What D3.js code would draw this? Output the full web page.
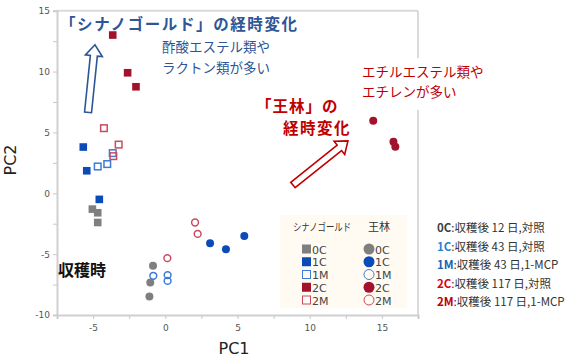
<!DOCTYPE html>
<html lang="ja">
<head>
<meta charset="utf-8">
<style>
  html, body { margin: 0; padding: 0; background: #fff; }
  svg { display: block; }
  text { font-family: "Noto Sans CJK JP", "Noto Sans", sans-serif; }
</style>
</head>
<body>
<svg width="570" height="360"></svg>
<script src="https://d3js.org/d3.v7.min.js"></script>
<script>
// データ（PC1, PC2）
const groups = ["0C", "1C", "1M", "2C", "2M"];

const shinano = {
  "0C": [[-5.05, -1.3], [-4.68, -1.6], [-4.68, -2.4]],
  "1C": [[-5.68, 3.8], [-5.44, 1.85], [-4.57, -0.5]],
  "1M": [[-4.68, 2.2], [-4.02, 2.4], [-3.64, 3.3]],
  "2C": [[-3.64, 13.0], [-2.61, 9.9], [-2.03, 8.75]],
  "2M": [[-4.25, 5.35], [-3.23, 4.0], [-3.6, 3.05]]
};

const ourin = {
  "0C": [[-0.85, -5.95], [-1.04, -7.33], [-1.1, -8.48]],
  "1C": [[3.1, -4.1], [4.2, -4.6], [5.47, -3.5]],
  "1M": [[-0.83, -6.78], [0.16, -6.72], [0.16, -7.2]],
  "2C": [[14.4, 5.95], [15.8, 4.23], [15.93, 3.82]],
  "2M": [[2.06, -2.4], [2.24, -3.34], [0.14, -5.33]]
};

const xTicks = [-5, 0, 5, 10, 15];
const yTicks = [-10, -5, 0, 5, 10, 15];

const notes = [
  ["0C", "収穫後 12 日,対照"],
  ["1C", "収穫後 43 日,対照"],
  ["1M", "収穫後 43 日,1-MCP"],
  ["2C", "収穫後 117 日,対照"],
  ["2M", "収穫後 117 日,1-MCP"]
];

// 矢印（データ座標）
const blueArrow = [[-5.35, 6.65], [-4.87, 12.2]];
const redArrow = [[8.84, 0.68], [12.65, 4.3]];

const svg = d3.select("svg");

const x = d3.scaleLinear().domain([-7.5, 17.5]).range([57, 418]);
const y = d3.scaleLinear().domain([-10, 15]).range([315, 10.7]);

const fillColor = { "0C": "#7f7f7f", "1C": "#0a4bb8", "1M": "#fff", "2C": "#a3122c", "2M": "#fff" };
const strokeColor = { "0C": "#7f7f7f", "1C": "#0a4bb8", "1M": "#3d7bd4", "2C": "#a3122c", "2M": "#c94a60" };
const noteColor = { "0C": "#404040", "1C": "#1f86d0", "1M": "#1e5fb0", "2C": "#e00010", "2M": "#c00000" };

// 枠
svg.append("line").attr("x1", x(-7.5)).attr("x2", x(17.5)).attr("y1", y(15)).attr("y2", y(15))
  .attr("stroke", "#dadada").attr("stroke-width", 2);
svg.append("line").attr("x1", x(17.5)).attr("x2", x(17.5)).attr("y1", y(15)).attr("y2", y(-10))
  .attr("stroke", "#dadada").attr("stroke-width", 2);

// 軸
const minor = d3.range(-7.5, 17.51, 2.5);
const xAxis = svg.append("g").attr("transform", `translate(0,${y(-10)})`)
  .call(d3.axisBottom(x).tickValues(minor).tickSize(4)
    .tickFormat(d => xTicks.includes(d) ? d : ""));
const yAxis = svg.append("g").attr("transform", `translate(${x(-7.5)},0)`)
  .call(d3.axisLeft(y).tickValues(d3.range(-10, 15.01, 2.5)).tickSize(4)
    .tickFormat(d => yTicks.includes(d) ? d : ""));

[xAxis, yAxis].forEach(a => {
  a.select(".domain").attr("stroke", "#d0d0d0").attr("stroke-width", 2);
  a.selectAll(".tick line").attr("stroke", "#c8c8c8");
  a.selectAll(".tick text").attr("fill", "#555").style("font-size", "9px")
    .style("font-family", "'DejaVu Sans', sans-serif");
});
xAxis.selectAll(".tick text").attr("dy", "0.95em");

svg.append("text").attr("x", 234).attr("y", 354).attr("text-anchor", "middle")
  .style("font-family", "'DejaVu Sans', sans-serif").style("font-size", "16px").attr("fill", "#222")
  .text("PC1");
svg.append("text").attr("transform", "translate(16,160) rotate(-90)").attr("text-anchor", "middle")
  .style("font-family", "'DejaVu Sans', sans-serif").style("font-size", "16px").attr("fill", "#222")
  .text("PC2");

// 矢印
function arrow(pts, color) {
  const [a, b] = pts;
  const x1 = x(a[0]), y1 = y(a[1]), x2 = x(b[0]), y2 = y(b[1]);
  const len = Math.hypot(x2 - x1, y2 - y1);
  const ang = Math.atan2(y2 - y1, x2 - x1) * 180 / Math.PI;
  const sw = 3.5, hw = 8.5, hl = 11;
  const d = `M0,${-sw} L${len - hl},${-sw} L${len - hl},${-hw} L${len},0 L${len - hl},${hw} L${len - hl},${sw} L0,${sw} Z`;
  svg.append("path").attr("d", d)
    .attr("transform", `translate(${x1},${y1}) rotate(${ang})`)
    .attr("fill", "#fff").attr("stroke", color).attr("stroke-width", 1.6);
}
arrow(blueArrow, "#2f5597");
arrow(redArrow, "#c00000");

// 点
function drawPoints(data, shape) {
  groups.forEach(g => {
    const pts = data[g];
    const open = g.endsWith("M");
    if (shape === "square") {
      svg.append("g").selectAll("rect").data(pts).join("rect")
        .attr("x", d => x(d[0]) - (open ? 3.3 : 3.8))
        .attr("y", d => y(d[1]) - (open ? 3.3 : 3.8))
        .attr("width", open ? 6.6 : 7.6).attr("height", open ? 6.6 : 7.6)
        .attr("fill", open ? "none" : fillColor[g])
        .attr("stroke", open ? strokeColor[g] : "none")
        .attr("stroke-width", 1.5);
    } else {
      svg.append("g").selectAll("circle").data(pts).join("circle")
        .attr("cx", d => x(d[0])).attr("cy", d => y(d[1]))
        .attr("r", open ? 3.4 : 4)
        .attr("fill", open ? "none" : fillColor[g])
        .attr("stroke", open ? strokeColor[g] : "none")
        .attr("stroke-width", 1.5);
    }
  });
}
drawPoints(shinano, "square");
drawPoints(ourin, "circle");

// 注記
svg.append("text").attr("x", 60).attr("y", 30)
  .style("font-size", "15.5px").style("font-weight", "bold").style("letter-spacing", "1.6px")
  .attr("fill", "#2f5597").text("「シナノゴールド」の経時変化");

const blueNote = svg.append("text").style("font-size", "13.5px").attr("fill", "#2f5597");
blueNote.append("tspan").attr("x", 162).attr("y", 52).text("酢酸エステル類や");
blueNote.append("tspan").attr("x", 162).attr("y", 73).text("ラクトン類が多い");

svg.append("rect").attr("x", 360).attr("y", 58).attr("width", 120).attr("height", 52).attr("fill", "#fff");
const redNote = svg.append("text").style("font-size", "13.5px").attr("fill", "#c00000");
redNote.append("tspan").attr("x", 362).attr("y", 77).text("エチルエステル類や");
redNote.append("tspan").attr("x", 362).attr("y", 97).text("エチレンが多い");

svg.append("text").attr("x", 256).attr("y", 112)
  .style("font-size", "15.5px").style("font-weight", "bold").style("letter-spacing", "1px")
  .attr("fill", "#c00000").text("「王林」の");
svg.append("text").attr("x", 283).attr("y", 134)
  .style("font-size", "15.5px").style("font-weight", "bold").style("letter-spacing", "1.5px")
  .attr("fill", "#c00000").text("経時変化");

svg.append("text").attr("x", 58).attr("y", 276)
  .style("font-size", "16px").style("font-weight", "bold").attr("fill", "#111").text("収穫時");

// 凡例
const leg = svg.append("g");
leg.append("rect").attr("x", 280).attr("y", 215).attr("width", 127).attr("height", 93).attr("fill", "#fffbf3");
leg.append("text").attr("x", 293).attr("y", 231)
  .attr("textLength", 58).attr("lengthAdjust", "spacingAndGlyphs")
  .style("font-size", "10.5px").attr("fill", "#333").text("シナノゴールド");
leg.append("text").attr("x", 379).attr("y", 231).attr("text-anchor", "middle")
  .style("font-size", "11px").attr("fill", "#333").text("王林");

const rowY = d3.scalePoint().domain(groups).range([249, 300]);
groups.forEach(g => {
  const open = g.endsWith("M");
  const cy = rowY(g);
  leg.append("rect").attr("x", open ? 302.5 : 302).attr("y", cy - (open ? 4 : 4.5))
    .attr("width", open ? 8 : 9).attr("height", open ? 8 : 9)
    .attr("fill", open ? "none" : fillColor[g])
    .attr("stroke", open ? strokeColor[g] : "none").attr("stroke-width", 1);
  leg.append("text").attr("x", 312).attr("y", cy + 4.5)
    .style("font-family", "'DejaVu Sans', sans-serif").style("font-size", "11px").attr("fill", "#444").text(g);
  leg.append("circle").attr("cx", 369).attr("cy", cy).attr("r", open ? 5 : 5.5)
    .attr("fill", open ? "none" : fillColor[g])
    .attr("stroke", open ? strokeColor[g] : "none").attr("stroke-width", 1);
  leg.append("text").attr("x", 375).attr("y", cy + 4.5)
    .style("font-family", "'DejaVu Sans', sans-serif").style("font-size", "11px").attr("fill", "#444").text(g);
});

// 右側の説明
const noteY = d3.scalePoint().domain(groups).range([232, 306]);
notes.forEach(([g, txt]) => {
  const t = svg.append("text").attr("x", 437).attr("y", noteY(g)).style("font-size", "11.5px");
  t.append("tspan").style("font-weight", "bold").attr("fill", noteColor[g]).text(g);
  t.append("tspan").attr("fill", "#333").text(":" + txt);
});
</script>
</body>
</html>
